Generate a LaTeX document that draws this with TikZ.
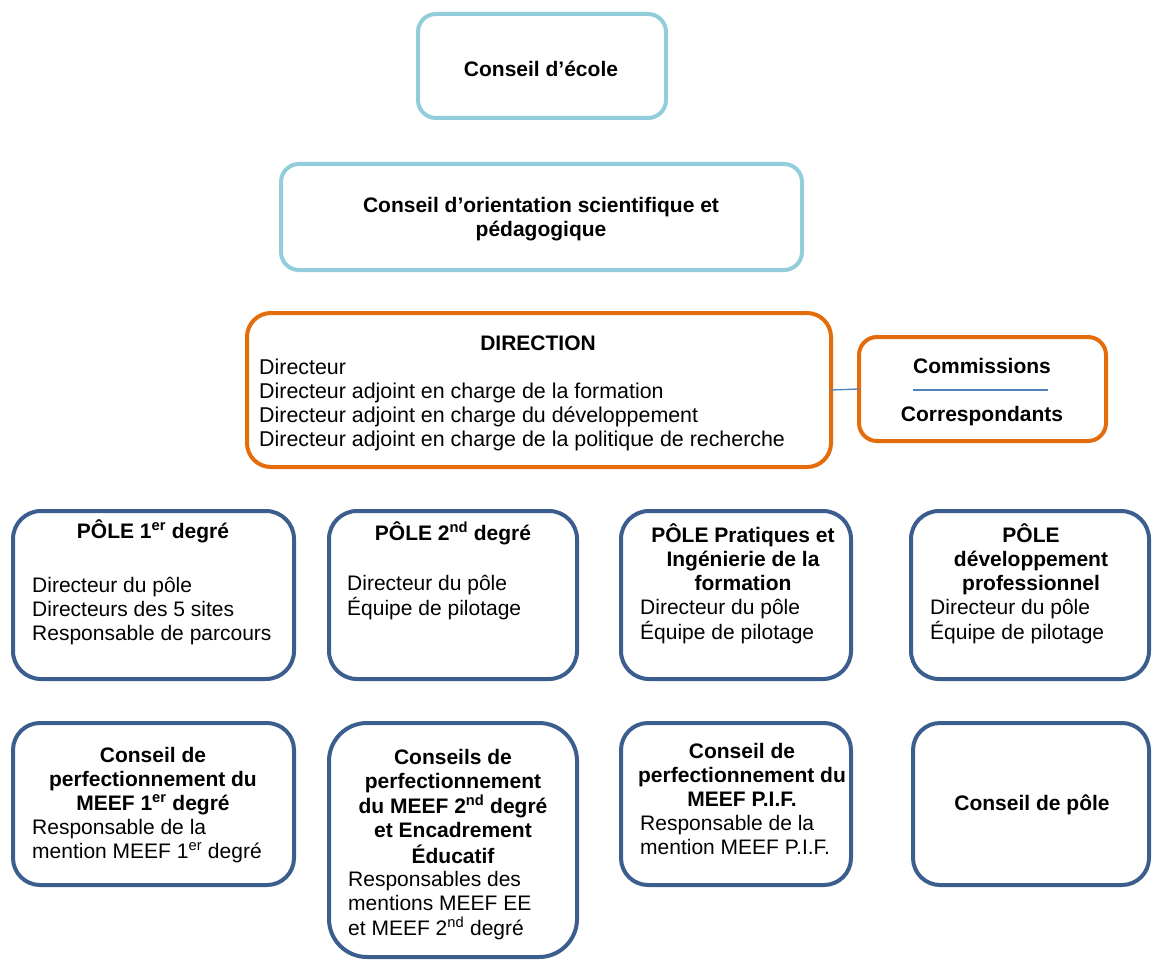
\documentclass[tikz,border=0pt]{standalone}
\usepackage{fontspec}
\setmainfont{Liberation Sans}
\definecolor{lightblue}{RGB}{146,205,220}
\definecolor{orangeb}{RGB}{228,108,10}
\definecolor{navyb}{RGB}{59,94,142}
\definecolor{linkblue}{RGB}{79,129,189}
\newcommand\mytabc[1]{\begin{tabular}[t]{@{}c@{}}#1\end{tabular}}
\newcommand\mytabl[1]{\begin{tabular}[t]{@{}l@{}}#1\end{tabular}}
\tikzset{
  frame/.style={draw, line width=4pt, inner sep=0pt, outer sep=0pt},
  cyanbox/.style={frame, draw=lightblue, rounded corners=18pt},
  orangebox/.style={frame, draw=orangeb, rounded corners=24pt},
  navybox/.style={frame, draw=navyb, rounded corners=28pt},
  ttl/.style={font=\fontsize{21}{24}\selectfont\bfseries, anchor=base, inner sep=0pt},
  lst/.style={font=\fontsize{21}{24}\selectfont, anchor=base west, inner sep=0pt},
  link/.style={draw=linkblue, line width=1.3pt},
}
\begin{document}
\begin{tikzpicture}[x=1pt,y=-1pt]
\useasboundingbox (0,0) rectangle (1153,960);
% top boxes
\node[cyanbox, minimum width=248pt, minimum height=104pt] (ecole) at (542,66) {};
\node[ttl] (ecoleT) at (541,77) {Conseil d’école};
\node[cyanbox, minimum width=521pt, minimum height=106pt] (orient) at (541.5,217) {};
\node[ttl] (orientT) at (541,212) {\mytabc{Conseil d’orientation scientifique et\\pédagogique}};
% direction
\node[orangebox, minimum width=584pt, minimum height=154pt] (dir) at (539,390) {};
\node[ttl] (dirT) at (538,350) {DIRECTION};
\node[lst, font=\fontsize{21.4}{24}\selectfont] (dirL) at (259,374) {\mytabl{Directeur\\Directeur adjoint en charge de la formation\\Directeur adjoint en charge du développement\\Directeur adjoint en charge de la politique de recherche}};
\node[orangebox, rounded corners=18pt, minimum width=247pt, minimum height=104pt] (comm) at (982.5,389) {};
\node[ttl] (commT) at (982,373) {Commissions};
\node[ttl] (corrT) at (982,421) {Correspondants};
\coordinate (sepL) at (913,390);
\coordinate (sepR) at (1048,390);
\draw[link, line width=2.5pt] (sepL) -- (sepR);
\draw[link] (dir.east) -- (comm.west);
% poles
\node[navybox, minimum width=281pt, minimum height=168pt] (p1) at (153.5,595) {};
\node[ttl] (p1T) at (153,538) {PÔLE 1\textsuperscript{er} degré};
\node[lst] (p1L) at (32,592) {\mytabl{Directeur du pôle\\Directeurs des 5 sites\\Responsable de parcours}};
\node[navybox, minimum width=248pt, minimum height=168pt] (p2) at (453,595) {};
\node[ttl] (p2T) at (453,540) {PÔLE 2\textsuperscript{nd} degré};
\node[lst] (p2L) at (347,590) {\mytabl{Directeur du pôle\\Équipe de pilotage}};
\node[navybox, minimum width=230pt, minimum height=168pt] (p3) at (736,595) {};
\node[ttl] (p3T) at (743,542) {\mytabc{PÔLE Pratiques et\\Ingénierie de la\\formation}};
\node[lst] (p3L) at (640,614) {\mytabl{Directeur du pôle\\Équipe de pilotage}};
\node[navybox, minimum width=238pt, minimum height=168pt] (p4) at (1030,595) {};
\node[ttl] (p4T) at (1031,542) {\mytabc{PÔLE\\développement\\professionnel}};
\node[lst] (p4L) at (930,614) {\mytabl{Directeur du pôle\\Équipe de pilotage}};
% conseils
\node[navybox, rounded corners=27pt, minimum width=281pt, minimum height=162pt] (c1) at (153.5,804) {};
\node[ttl] (c1T) at (153,762) {\mytabc{Conseil de\\perfectionnement du\\MEEF 1\textsuperscript{er} degré}};
\node[lst] (c1L) at (32,834) {\mytabl{Responsable de la\\mention MEEF 1\textsuperscript{er} degré}};
\node[navybox, rounded corners=38pt, minimum width=248pt, minimum height=234pt] (c2) at (453,840) {};
\node[ttl] (c2T) at (453,764) {\mytabc{Conseils de\\perfectionnement\\du MEEF 2\textsuperscript{nd} degré\\et Encadrement\\Éducatif}};
\node[lst] (c2L) at (348,886) {\mytabl{Responsables des\\mentions MEEF EE\\et MEEF 2\textsuperscript{nd} degré}};
\node[navybox, rounded corners=27pt, minimum width=230pt, minimum height=162pt] (c3) at (736,804) {};
\node[ttl] (c3T) at (742,758) {\mytabc{Conseil de\\perfectionnement du\\MEEF P.I.F.}};
\node[lst] (c3L) at (640,830) {\mytabl{Responsable de la\\mention MEEF P.I.F.}};
\node[navybox, rounded corners=27pt, minimum width=236pt, minimum height=162pt] (c4) at (1031,804) {};
\node[ttl] (c4T) at (1032,810) {Conseil de pôle};
\end{tikzpicture}
\end{document}
